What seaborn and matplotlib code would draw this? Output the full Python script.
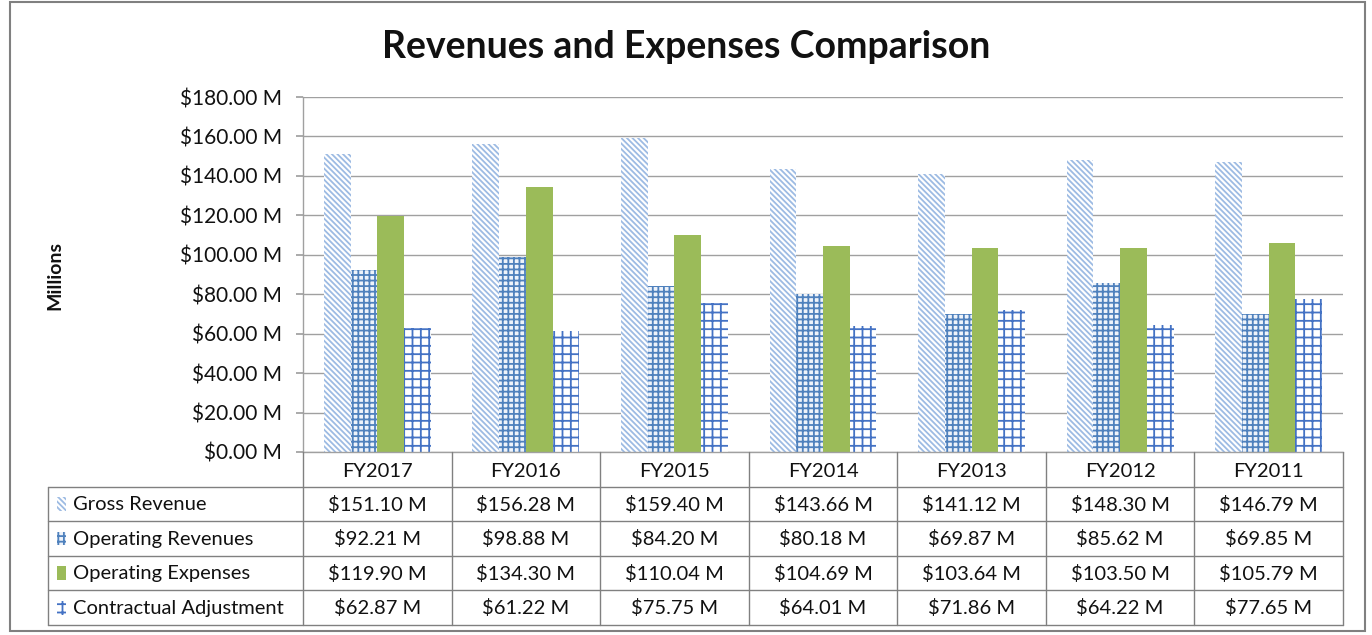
import pandas as pd
import matplotlib.pyplot as plt
import seaborn as sns
from matplotlib.patches import Rectangle
from matplotlib.ticker import FuncFormatter

years = ["FY2017", "FY2016", "FY2015", "FY2014", "FY2013", "FY2012", "FY2011"]
series = ["Gross Revenue", "Operating Revenues", "Operating Expenses", "Contractual Adjustment"]
gross_revenue = [151.10, 156.28, 159.40, 143.66, 141.12, 148.30, 146.79]
operating_revenues = [92.21, 98.88, 84.20, 80.18, 69.87, 85.62, 69.85]
operating_expenses = [119.90, 134.30, 110.04, 104.69, 103.64, 103.50, 105.79]
contractual_adjustment = [62.87, 61.22, 75.75, 64.01, 71.86, 64.22, 77.65]

values = [gross_revenue, operating_revenues, operating_expenses, contractual_adjustment]

# styles: (facecolor, hatch, hatch colour)
styles = [
    ("white", "\\\\\\\\\\\\", "#9DBBE3"),
    ("#EEF3FA", "+++", "#4F81BD"),
    ("#9BBB59", "", "#9BBB59"),
    ("white", "++", "#4472C4"),
]

df = pd.DataFrame({
    "year": years * 4,
    "series": [s for s in series for _ in years],
    "value": gross_revenue + operating_revenues + operating_expenses + contractual_adjustment,
})

sns.set_theme(style="white")
plt.rcParams["font.family"] = ["Lato", "DejaVu Sans"]
plt.rcParams["hatch.linewidth"] = 1.3

fig = plt.figure(figsize=(13.72, 6.35), dpi=100)
ax = fig.add_axes([303 / 1372, 1 - 452 / 635, 1040 / 1372, 355 / 635])

sns.barplot(data=df, x="year", y="value", hue="series", order=years, hue_order=series,
            width=0.72, gap=0, ax=ax, legend=False, saturation=1)

for cont, (fc, hatch, hc) in zip(ax.containers, styles):
    for bar in cont:
        bar.set_facecolor(fc)
        bar.set_hatch(hatch)
        bar.set_edgecolor(hc)
        bar.set_linewidth(0)

ax.set_ylim(0, 180)
ax.set_xlim(-0.5, 6.5)
ax.set_yticks(range(0, 181, 20))
ax.yaxis.set_major_formatter(FuncFormatter(lambda v, p: f"${v:.2f} M"))
ax.tick_params(axis="y", labelsize=15, length=5, color="#A0A0A0", left=True, pad=10, labelcolor="#111111")
ax.set_xticks([])
ax.set_xlabel("")
ax.set_ylabel("")
ax.grid(axis="y", color="#A0A0A0", linewidth=1)
ax.set_axisbelow(True)
for s in ["top", "right"]:
    ax.spines[s].set_visible(False)
for s in ["left", "bottom"]:
    ax.spines[s].set_color("#A0A0A0")
    ax.spines[s].set_linewidth(1)

# data table below the plot
tab = fig.add_axes([48 / 1372, 1 - 625 / 635, 1295 / 1372, 173 / 635])
lab_w = 255 / (1040 / 7)
tab.set_xlim(-0.5 - lab_w, 6.5)
tab.set_ylim(5, 0)
tab.axis("off")
lc = "#808080"
for r in range(1, 6):
    tab.plot([-0.5 - lab_w, 6.5], [r, r], color=lc, lw=1, clip_on=False)
for c in range(8):
    tab.plot([c - 0.5, c - 0.5], [0, 5], color=lc, lw=1, clip_on=False)
tab.plot([-0.5 - lab_w, -0.5 - lab_w], [1, 5], color=lc, lw=1, clip_on=False)

fs = 14.5
for i, y in enumerate(years):
    tab.text(i, 0.55, y, ha="center", va="center", fontsize=fs, color="#111111")
for r, (name, vals, (fc, hatch, hc)) in enumerate(zip(series, values, styles)):
    yc = r + 1.5
    tab.add_patch(Rectangle((-0.5 - lab_w + 0.06, yc - 0.2), 0.06, 0.4,
                            facecolor=fc, hatch=hatch, edgecolor=hc, linewidth=0))
    tab.text(-0.5 - lab_w + 0.17, yc + 0.02, name, ha="left", va="center", fontsize=fs, color="#111111")
    for i, v in enumerate(vals):
        tab.text(i, yc + 0.02, f"${v:.2f} M", ha="center", va="center", fontsize=fs, color="#111111")

fig.text(0.5, 1 - 47 / 635, "Revenues and Expenses Comparison", ha="center", va="center",
         fontsize=27, fontweight="bold", color="#111111")
fig.text(55 / 1372, 1 - 275 / 635, "Millions", rotation=90, ha="center", va="center",
         fontsize=14, fontweight="bold", color="#111111")

fig.patches.append(Rectangle((10 / 1372, 4 / 635), 1355 / 1372, 629 / 635, transform=fig.transFigure,
                             fill=False, edgecolor="#808080", linewidth=1.5))

fig.savefig("out.png", dpi=100)
